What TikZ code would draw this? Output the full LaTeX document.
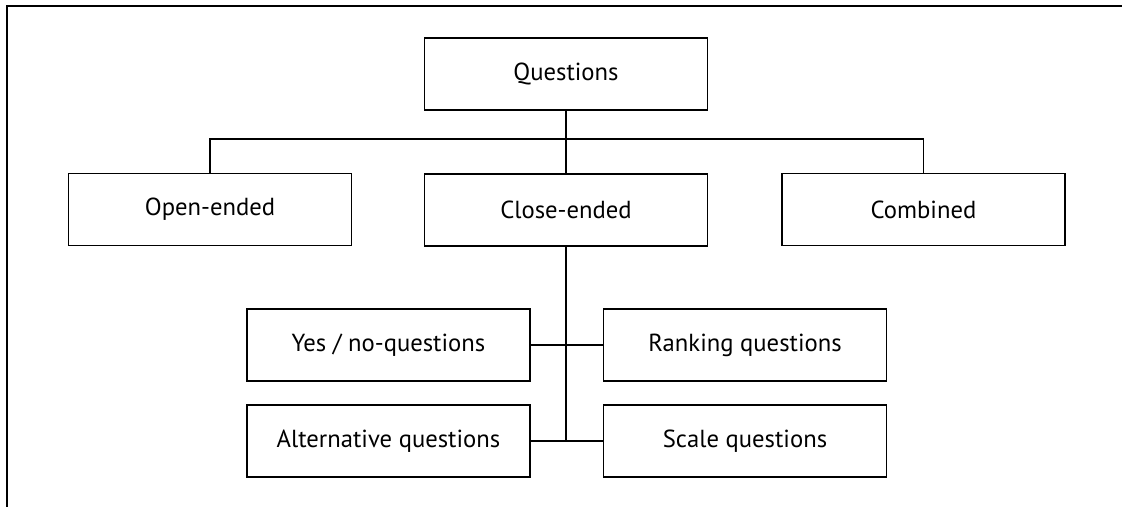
\documentclass[tikz,border=0pt]{standalone}
\usepackage{fontspec}
\setmainfont{PT Sans}
\begin{document}
\begin{tikzpicture}[x=0.75pt,y=-0.75pt,
  box/.style={draw,line width=1.2pt,minimum width=212pt,minimum height=54pt,inner sep=0pt,font=\fontsize{18.5}{22}\selectfont},
  conn/.style={line width=1.2pt}]
\useasboundingbox (0,0) rectangle (1122,507);
\draw[line width=1.6pt] (7,507) -- (7,6) -- (1122,6);
\node[box] (q) at (566,74) {Questions};
\node[box] (open) at (210,209.5) {Open-ended};
\node[box] (close) at (566,210) {Close-ended};
\node[box] (comb) at (923.5,209.5) {Combined};
\node[box] (yes) at (388.5,345) {Yes / no-questions};
\node[box] (rank) at (745,345) {Ranking questions};
\node[box] (alt) at (388.5,441) {Alternative questions};
\node[box] (scale) at (745,441) {Scale questions};
\coordinate (bar) at (566,139);
\coordinate (j2) at (566,441);
\draw[conn] (q.south) -- (close.north);
\draw[conn] (open.north) |- (bar) -| (comb.north);
\draw[conn] (close.south) -- (j2);
\draw[conn] (yes.east) -- (rank.west);
\draw[conn] (alt.east) -- (scale.west);
\end{tikzpicture}
\end{document}
